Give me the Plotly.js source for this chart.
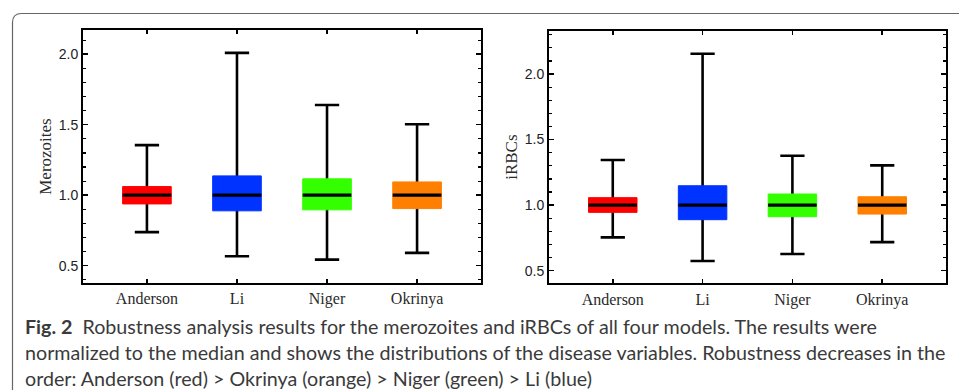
<!DOCTYPE html>
<html>
<head>
<meta charset="utf-8">
<script src="https://cdn.plot.ly/plotly-3.0.1.min.js"></script>
<style>
  html, body { margin: 0; padding: 0; background: #ffffff; }
  #chart { width: 959px; height: 390px; }
</style>
</head>
<body>
<div id="chart"></div>
<script>
// ---- data ----
const models = ['Anderson', 'Li', 'Niger', 'Okrinya'];
const boxColors = ['#ff0000', '#0033ff', '#33ff00', '#ff7f00'];

// Merozoites (left panel)
const merLower  = [0.738, 0.567, 0.543, 0.591];
const merQ1     = [0.938, 0.889, 0.896, 0.905];
const merMedian = [1.0, 1.0, 1.0, 1.0];
const merQ3     = [1.061, 1.137, 1.116, 1.094];
const merUpper  = [1.355, 2.010, 1.640, 1.503];

// iRBCs (right panel)
const rbcLower  = [0.754, 0.574, 0.627, 0.718];
const rbcQ1     = [0.945, 0.889, 0.912, 0.932];
const rbcMedian = [1.0, 1.0, 1.0, 1.0];
const rbcQ3     = [1.057, 1.148, 1.085, 1.064];
const rbcUpper  = [1.344, 2.155, 1.377, 1.303];

const yTickVals = [0.5, 1.0, 1.5, 2.0];
const yTickText = ['0.5', '1.0', '1.5', '2.0'];

const captionLines = [
  '<b>Fig. 2</b>  Robustness analysis results for the merozoites and iRBCs of all four models. The results were',
  'normalized to the median and shows the distributions of the disease variables. Robustness decreases in the',
  'order: Anderson (red) > Okrinya (orange) > Niger (green) > Li (blue)'
];

const BOXW = 0.54;

function panelTraces(lower, q1, med, q3, upper, xa, ya) {
  const tr = [];
  // whiskers (black), box collapsed onto the median
  tr.push({
    type: 'box', x: models, q1: med, median: med, q3: med,
    lowerfence: lower, upperfence: upper,
    width: BOXW, whiskerwidth: 0.5, boxpoints: false,
    line: { color: '#000000', width: 2.6 }, fillcolor: 'rgba(0,0,0,0)',
    xaxis: xa, yaxis: ya, showlegend: false, hoverinfo: 'skip'
  });
  // coloured boxes
  models.forEach((m, i) => {
    tr.push({
      type: 'box', x: [m], q1: [q1[i]], median: [med[i]], q3: [q3[i]],
      lowerfence: [q1[i]], upperfence: [q3[i]],
      width: BOXW, whiskerwidth: 0, boxpoints: false,
      line: { color: boxColors[i], width: 1 }, fillcolor: boxColors[i],
      xaxis: xa, yaxis: ya, showlegend: false, hoverinfo: 'skip'
    });
  });
  // black median line
  tr.push({
    type: 'box', x: models, q1: med, median: med, q3: med,
    lowerfence: med, upperfence: med,
    width: BOXW, whiskerwidth: 0, boxpoints: false,
    line: { color: '#000000', width: 3.2 }, fillcolor: 'rgba(0,0,0,0)',
    xaxis: xa, yaxis: ya, showlegend: false, hoverinfo: 'skip'
  });
  return tr;
}

const data = [].concat(
  panelTraces(merLower, merQ1, merMedian, merQ3, merUpper, 'x', 'y'),
  panelTraces(rbcLower, rbcQ1, rbcMedian, rbcQ3, rbcUpper, 'x2', 'y2')
);

function xAxis(domain, anchor) {
  return {
    domain: domain, anchor: anchor, type: 'category',
    categoryorder: 'array', categoryarray: models,
    range: [-0.71, 3.71], fixedrange: true,
    showline: true, linecolor: '#000000', linewidth: 2, mirror: 'ticks',
    ticks: 'inside', ticklen: 4, tickwidth: 1.5, tickcolor: '#000000',
    showgrid: false, zeroline: false,
    tickfont: { family: 'Liberation Serif, Times New Roman, serif', size: 16, color: '#2a2a2a' }
  };
}
function yAxis(domain, anchor, range, title) {
  return {
    domain: domain, anchor: anchor, range: range, fixedrange: true,
    tickvals: yTickVals, ticktext: yTickText,
    showline: true, linecolor: '#000000', linewidth: 2, mirror: 'ticks',
    ticks: 'inside', ticklen: 5, tickwidth: 1.5, tickcolor: '#000000',
    minor: { dtick: 0.1, tick0: 0, ticks: 'inside', ticklen: 3, tickwidth: 1.2, tickcolor: '#000000', showgrid: false },
    showgrid: false, zeroline: false,
    tickfont: { family: 'Liberation Sans, Arial, sans-serif', size: 14, color: '#222222' },
    title: { text: title, standoff: 3,
             font: { family: 'Liberation Serif, Times New Roman, serif', size: 17, color: '#2a2a2a' } }
  };
}

const W = 959, H = 390;
const px = v => v / W;
const py = v => 1 - v / H;

// rounded card border (top-left corner, open to the right and bottom)
const bx = px(12.5), by = py(13.5), rx = px(9), ry = 9 / H;
const cardPath = `M ${bx},-0.05 L ${bx},${by - ry} Q ${bx},${by} ${bx + rx},${by} L 1.05,${by}`;

const captionY = [326, 352, 378];
const annotations = captionLines.map((t, i) => ({
  xref: 'paper', yref: 'paper', x: px(23), y: py(captionY[i]),
  xanchor: 'left', yanchor: 'middle', showarrow: false, align: 'left',
  text: t, font: { family: 'Lato, Open Sans, sans-serif', size: 19.7, color: '#3a3a3a' }
}));

const layout = {
  width: W, height: H,
  margin: { l: 0, r: 0, t: 0, b: 0 },
  paper_bgcolor: '#ffffff', plot_bgcolor: '#ffffff',
  boxmode: 'overlay', showlegend: false,
  xaxis: xAxis([px(83), px(481)], 'y'),
  yaxis: yAxis([py(283), py(30)], 'x', [0.377, 2.172], 'Merozoites'),
  xaxis2: xAxis([px(549), px(946)], 'y2'),
  yaxis2: yAxis([py(283.3), py(31)], 'x2', [0.404, 2.328], 'iRBCs'),
  shapes: [{ type: 'path', xref: 'paper', yref: 'paper', path: cardPath,
             line: { color: '#666666', width: 1.2 } }],
  annotations: annotations
};

Plotly.newPlot('chart', data, layout, { staticPlot: true, displayModeBar: false });
</script>
</body>
</html>
